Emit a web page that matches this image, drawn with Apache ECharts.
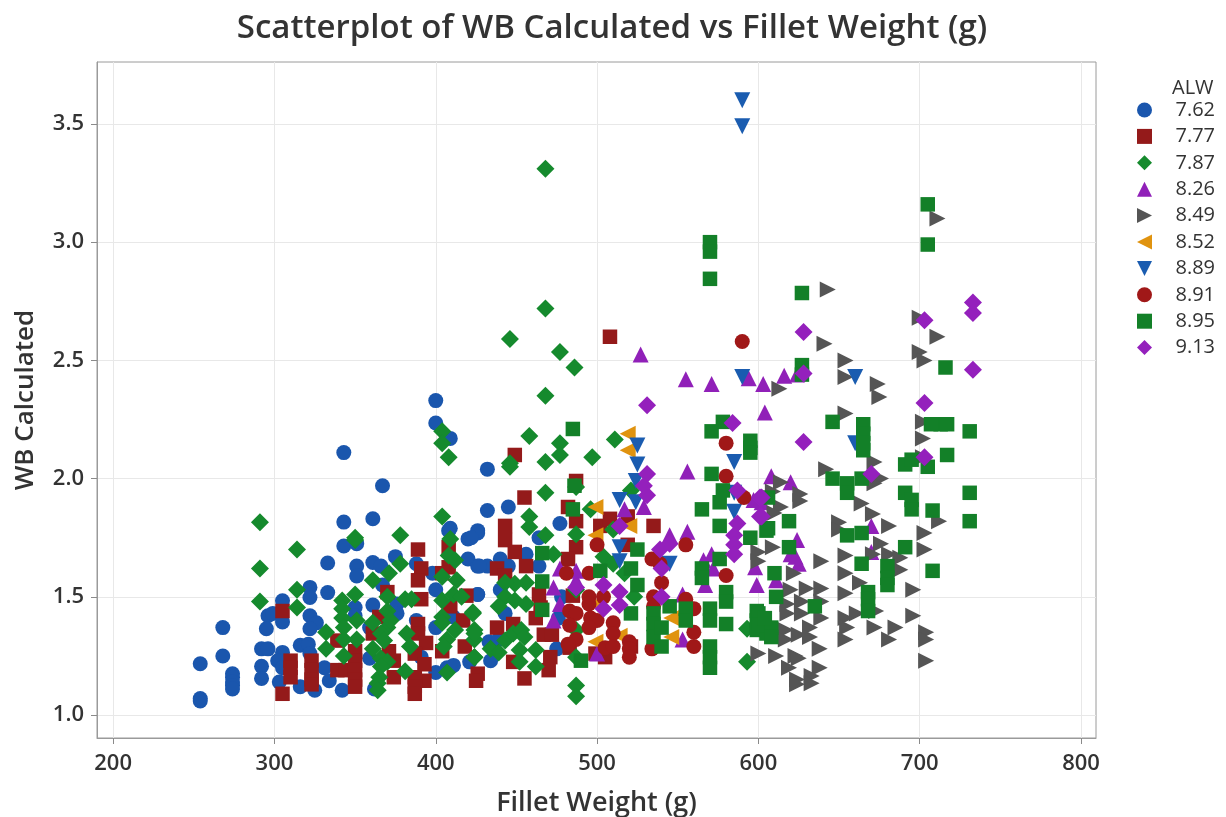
<!DOCTYPE html>
<html><head><meta charset="utf-8">
<style>html,body{margin:0;padding:0;background:#fff}#c{width:1226px;height:817px}</style>
<script src="https://cdn.jsdelivr.net/npm/echarts@6/dist/echarts.min.js"></script>
</head><body><div id="c"></div>
<script>
const xTicks=[200,300,400,500,600,700,800];
const yTicks=[1.0,1.5,2.0,2.5,3.0,3.5];
const alwNames=['7.62','7.77','7.87','8.26','8.49','8.52','8.89','8.91','8.95','9.13'];
const alw762=[[400,2.33],[400,2.235],[409,2.17],[343,2.11],[367,1.97],[343,1.816],[361,1.83],[343,1.715],[351,1.725],[333,1.643],[351,1.63],[351,1.588],[361,1.645],[366,1.63],[375,1.67],[367,1.55],[322,1.54],[322,1.497],[333,1.518],[305,1.483],[296,1.42],[299,1.43],[305,1.394],[295,1.365],[268,1.37],[322,1.42],[326,1.39],[322,1.365],[268,1.25],[254,1.217],[254,1.07],[254,1.06],[274,1.175],[274,1.16],[274,1.14],[274,1.125],[274,1.11],[292,1.28],[296,1.28],[292,1.206],[292,1.155],[305,1.265],[302,1.23],[305,1.2],[303,1.14],[316,1.12],[325,1.105],[342,1.105],[362,1.11],[316,1.295],[321,1.3],[322,1.26],[331,1.2],[334,1.145],[350,1.455],[350,1.42],[361,1.465],[359,1.37],[359,1.24],[376,1.47],[376,1.43],[388,1.4],[388,1.64],[398,1.6],[400,1.53],[400,1.37],[408,1.78],[409,1.79],[420,1.745],[426,1.77],[420,1.66],[426,1.63],[426,1.51],[407,1.2],[411,1.21],[400,1.18],[421,1.225],[391,1.245],[411,1.415],[432,2.04],[432,1.865],[445,1.88],[477,1.81],[426,1.78],[422,1.75],[464,1.75],[456,1.68],[440,1.66],[445,1.63],[432,1.63],[427,1.63],[464,1.63],[426,1.51],[440,1.53],[443,1.43],[433,1.31],[439,1.32],[434,1.23],[475,1.28],[478,1.5],[476,1.41]];
const alw777=[[305,1.44],[305,1.09],[310,1.23],[310,1.2],[310,1.16],[323,1.23],[323,1.19],[323,1.15],[323,1.13],[339,1.19],[344,1.19],[350,1.27],[350,1.23],[350,1.19],[350,1.15],[350,1.12],[389,1.7],[391,1.62],[389,1.57],[370,1.52],[391,1.49],[365,1.415],[361,1.345],[339,1.315],[389,1.385],[389,1.345],[394,1.305],[387,1.26],[393,1.215],[393,1.145],[387,1.16],[387,1.12],[387,1.09],[374,1.16],[374,1.23],[371,1.27],[408,1.71],[408,1.625],[404,1.6],[409,1.46],[418,1.29],[404,1.27],[417,1.4],[419,1.505],[426,1.175],[425,1.145],[449,2.1],[455,1.92],[443,1.8],[443,1.74],[449,1.69],[456,1.63],[438,1.62],[443,1.59],[438,1.37],[448,1.385],[448,1.225],[455,1.155],[470,1.19],[471,1.245],[464,1.51],[465,1.455],[462,1.41],[467,1.34],[472,1.34],[483,1.285],[482,1.88],[487,1.99],[487,1.82],[487,1.71],[482,1.66],[485,1.505],[499,1.26],[505,1.245],[502,1.8],[508,1.83],[519,1.84],[519,1.72],[535,1.8],[521,1.29],[508,2.6]];
const alw787=[[468,3.31],[468,2.72],[446,2.59],[477,2.535],[486,2.47],[468,2.35],[291,1.815],[314,1.7],[291,1.62],[314,1.53],[291,1.48],[314,1.455],[350,1.75],[350,1.74],[378,1.76],[361,1.57],[371,1.6],[378,1.64],[342,1.485],[342,1.45],[342,1.41],[343,1.37],[350,1.51],[351,1.4],[351,1.32],[343,1.32],[332,1.35],[332,1.28],[343,1.25],[404,2.2],[404,2.15],[408,2.09],[404,1.84],[409,1.745],[408,1.675],[412,1.655],[404,1.585],[413,1.57],[404,1.485],[411,1.51],[416,1.5],[404,1.415],[404,1.39],[423,1.435],[424,1.36],[424,1.32],[412,1.36],[407,1.32],[405,1.29],[424,1.245],[407,1.18],[370,1.5],[370,1.44],[381,1.49],[385,1.49],[382,1.345],[384,1.29],[381,1.185],[370,1.37],[366,1.345],[361,1.39],[368,1.315],[361,1.28],[366,1.24],[370,1.225],[366,1.205],[365,1.16],[364,1.135],[364,1.105],[372,1.4],[458,2.18],[477,2.15],[477,2.1],[468,2.07],[446,2.065],[446,2.05],[497,2.09],[511,2.165],[487,1.965],[468,1.94],[458,1.84],[458,1.795],[468,1.76],[487,1.765],[473,1.68],[456,1.56],[449,1.555],[443,1.56],[443,1.5],[449,1.485],[439,1.46],[456,1.47],[423,1.43],[424,1.345],[424,1.245],[487,1.36],[434,1.28],[439,1.265],[443,1.315],[448,1.345],[453,1.36],[455,1.33],[452,1.275],[452,1.225],[462,1.275],[462,1.205],[487,1.245],[487,1.125],[487,1.08],[487,1.53],[496,1.87],[510,1.785],[504,1.67],[510,1.64],[517,1.6],[523,1.5],[593,1.225],[593,1.365],[521,1.95]];
const alw826=[[527,2.525],[555,2.42],[571,2.4],[594,2.425],[603,2.4],[604,2.28],[616,2.435],[624,2.44],[556,2.03],[545,1.76],[556,1.775],[473,1.54],[477,1.62],[487,1.61],[487,1.57],[473,1.4],[477,1.47],[500,1.26],[566,1.655],[571,1.68],[567,1.55],[572,1.62],[553,1.51],[553,1.32],[598,1.625],[597,1.91],[608,2.01],[517,1.87],[529,1.88],[620,1.985],[602,1.9],[624,1.74],[620,1.68],[623,1.67],[625,1.64],[611,1.57],[599,1.55],[670,1.8],[670,1.69]];
const alw849=[[643,2.8],[711,3.1],[641,2.57],[654,2.5],[654,2.43],[700,2.68],[700,2.535],[703,2.5],[711,2.6],[674,2.4],[675,2.345],[613,2.38],[654,2.275],[702,2.24],[702,2.17],[702,2.09],[642,2.04],[672,2.07],[676,2.0],[672,1.98],[626,1.935],[626,1.905],[614,1.985],[609,1.945],[614,1.88],[610,1.855],[650,1.815],[650,1.785],[664,1.895],[671,1.85],[681,1.8],[703,1.77],[703,1.7],[712,1.82],[676,1.725],[681,1.68],[688,1.665],[688,1.615],[671,1.68],[654,1.675],[639,1.65],[654,1.6],[622,1.6],[609,1.71],[600,1.69],[600,1.65],[663,1.56],[654,1.515],[639,1.535],[630,1.535],[620,1.53],[696,1.53],[661,1.43],[673,1.44],[696,1.42],[639,1.48],[627,1.48],[618,1.47],[627,1.43],[618,1.43],[639,1.41],[654,1.41],[655,1.37],[654,1.32],[672,1.37],[685,1.37],[681,1.32],[704,1.35],[704,1.32],[704,1.23],[617,1.36],[617,1.32],[625,1.34],[632,1.37],[632,1.33],[638,1.28],[611,1.25],[623,1.25],[625,1.24],[619,1.2],[638,1.2],[624,1.15],[624,1.13],[633,1.165],[633,1.135],[600,1.26]];
const alw852=[[519,2.19],[519,2.12],[499,1.88],[499,1.76],[520,1.8],[499,1.31],[514,1.335],[546,1.41],[546,1.33],[499,1.47]];
const alw889=[[590,3.6],[590,3.49],[590,2.43],[660,2.43],[660,2.15],[525,2.14],[525,2.06],[524,1.99],[524,1.9],[514,1.91],[585,2.07],[585,1.86],[585,1.94],[514,1.71],[514,1.65],[545,1.64]];
const alw891=[[590,2.58],[580,2.15],[580,2.01],[591,1.92],[500,1.72],[555,1.72],[580,1.59],[481,1.6],[495,1.6],[534,1.66],[539,1.64],[540,1.56],[535,1.5],[495,1.5],[495,1.47],[504,1.5],[555,1.49],[560,1.45],[535,1.46],[483,1.44],[487,1.43],[483,1.38],[496,1.41],[500,1.4],[495,1.37],[510,1.39],[510,1.345],[487,1.32],[482,1.3],[560,1.35],[560,1.29],[505,1.285],[510,1.29],[520,1.31],[520,1.28],[520,1.245],[534,1.28]];
const alw895=[[705,3.16],[705,2.99],[570,3.0],[570,2.96],[570,2.845],[627,2.785],[627,2.48],[627,2.44],[716,2.47],[578,2.24],[571,2.2],[595,2.16],[595,2.13],[571,2.02],[485,2.21],[595,2.11],[578,1.95],[576,1.9],[565,1.87],[576,1.8],[595,1.75],[605,1.78],[485,1.87],[486,1.97],[466,1.685],[466,1.565],[466,1.445],[525,1.7],[521,1.62],[525,1.55],[502,1.61],[521,1.43],[576,1.66],[565,1.62],[565,1.58],[580,1.52],[580,1.48],[570,1.45],[570,1.4],[580,1.385],[570,1.29],[570,1.245],[570,1.2],[555,1.45],[555,1.4],[545,1.46],[535,1.43],[535,1.385],[535,1.33],[540,1.37],[540,1.29],[490,1.23],[599,1.44],[599,1.4],[599,1.36],[605,1.345],[646,2.24],[665,2.23],[665,2.19],[665,2.15],[665,2.12],[713,2.23],[717,2.23],[707,2.23],[731,2.2],[717,2.1],[691,2.06],[695,2.08],[705,2.05],[664,2.0],[646,2.0],[655,1.98],[655,1.94],[691,1.94],[695,1.91],[695,1.87],[708,1.865],[731,1.94],[731,1.82],[664,1.77],[655,1.76],[619,1.82],[606,1.79],[606,1.92],[619,1.71],[691,1.71],[664,1.64],[708,1.61],[680,1.63],[680,1.58],[680,1.55],[610,1.6],[611,1.5],[635,1.46],[668,1.52],[668,1.49],[668,1.44],[600,1.43],[600,1.38],[608,1.37],[608,1.33],[604,1.41]];
const alw913=[[628,2.62],[628,2.445],[628,2.155],[584,2.235],[531,2.31],[703,2.67],[733,2.745],[733,2.7],[733,2.46],[703,2.32],[703,2.09],[531,2.02],[531,1.93],[529,1.97],[587,1.95],[601,1.92],[601,1.84],[587,1.81],[585,1.76],[585,1.72],[585,1.68],[514,1.8],[545,1.725],[539,1.7],[540,1.62],[540,1.5],[504,1.55],[504,1.45],[514,1.52],[514,1.465],[487,1.54],[602,1.92],[602,1.84],[670,2.02]];
const alwValues=[alw762,alw777,alw787,alw826,alw849,alw852,alw889,alw891,alw895,alw913];
const alwColors=['#1a56ad','#941a1a','#158a2d','#9020b8','#555555','#e0930f','#1a5cb0','#a01818','#138028','#9420bc'];
const triRight='path://M0,0L10,5L0,10Z', triLeft='path://M10,0L0,5L10,10Z', triDown='path://M0,0L10,0L5,10Z';
const alwSymbols=['circle','rect','diamond','triangle',triRight,triLeft,triDown,'circle','rect','diamond'];
const alwSize=[15,14.5,18,16,16,16,16,15,14.5,18];
const font='"Open Sans"', ink='#333333';
const chart=echarts.init(document.getElementById('c'),null,{renderer:'canvas'});
const axisBase={
  axisLine:{show:true,onZero:false,lineStyle:{color:'#9a9a9a',width:1}},
  axisTick:{show:true,length:6,lineStyle:{color:'#8a8a8a'}},
  splitLine:{show:true,lineStyle:{color:'#e8e8e8',width:1}},
  nameLocation:'middle'
};
const tickText={fontFamily:font,fontSize:22,fontWeight:600,color:ink};
const nameText={fontFamily:font,fontWeight:600,color:ink};
chart.setOption({
  animation:false,
  backgroundColor:'#fff',
  title:[
    {text:'Scatterplot of WB Calculated vs Fillet Weight (g)',left:607,top:1,textAlign:'center',
     textStyle:{fontFamily:font,fontSize:33,fontWeight:600,color:ink,lineHeight:46}},
    {text:'ALW',left:1167,top:73,textStyle:{fontFamily:font,fontSize:20,fontWeight:'normal',color:ink}}
  ],
  grid:{left:97,right:130,top:62,bottom:79,outerBoundsMode:'none',show:true,borderColor:'#9a9a9a',borderWidth:1,backgroundColor:'#fff'},
  xAxis:{...axisBase,type:'value',min:190,max:809.3,name:'Fillet Weight (g)',nameGap:52,
    nameTextStyle:{...nameText,fontSize:27},
    axisTick:{...axisBase.axisTick,customValues:xTicks},
    axisLabel:{...tickText,customValues:xTicks,margin:15}},
  yAxis:{...axisBase,type:'value',min:0.903,max:3.762,name:'WB Calculated',nameGap:58,
    nameTextStyle:{...nameText,fontSize:26},
    axisTick:{...axisBase.axisTick,customValues:yTicks},
    axisLabel:{...tickText,customValues:yTicks,formatter:v=>v.toFixed(1),margin:13}},
  legend:{orient:'vertical',left:1137,top:100,itemWidth:15,itemHeight:15,itemGap:6.4,padding:0,
    data:alwNames,
    formatter:n=>'{a|'+n+'}',
    textStyle:{rich:{a:{fontFamily:font,fontSize:20,color:ink,width:58,align:'right',lineHeight:15}}}},
  series:alwNames.map((n,i)=>({
    name:n,type:'scatter',data:alwValues[i],symbol:alwSymbols[i],symbolSize:alwSize[i],
    itemStyle:{color:alwColors[i],opacity:1},z:2+i
  }))
});
</script></body></html>
